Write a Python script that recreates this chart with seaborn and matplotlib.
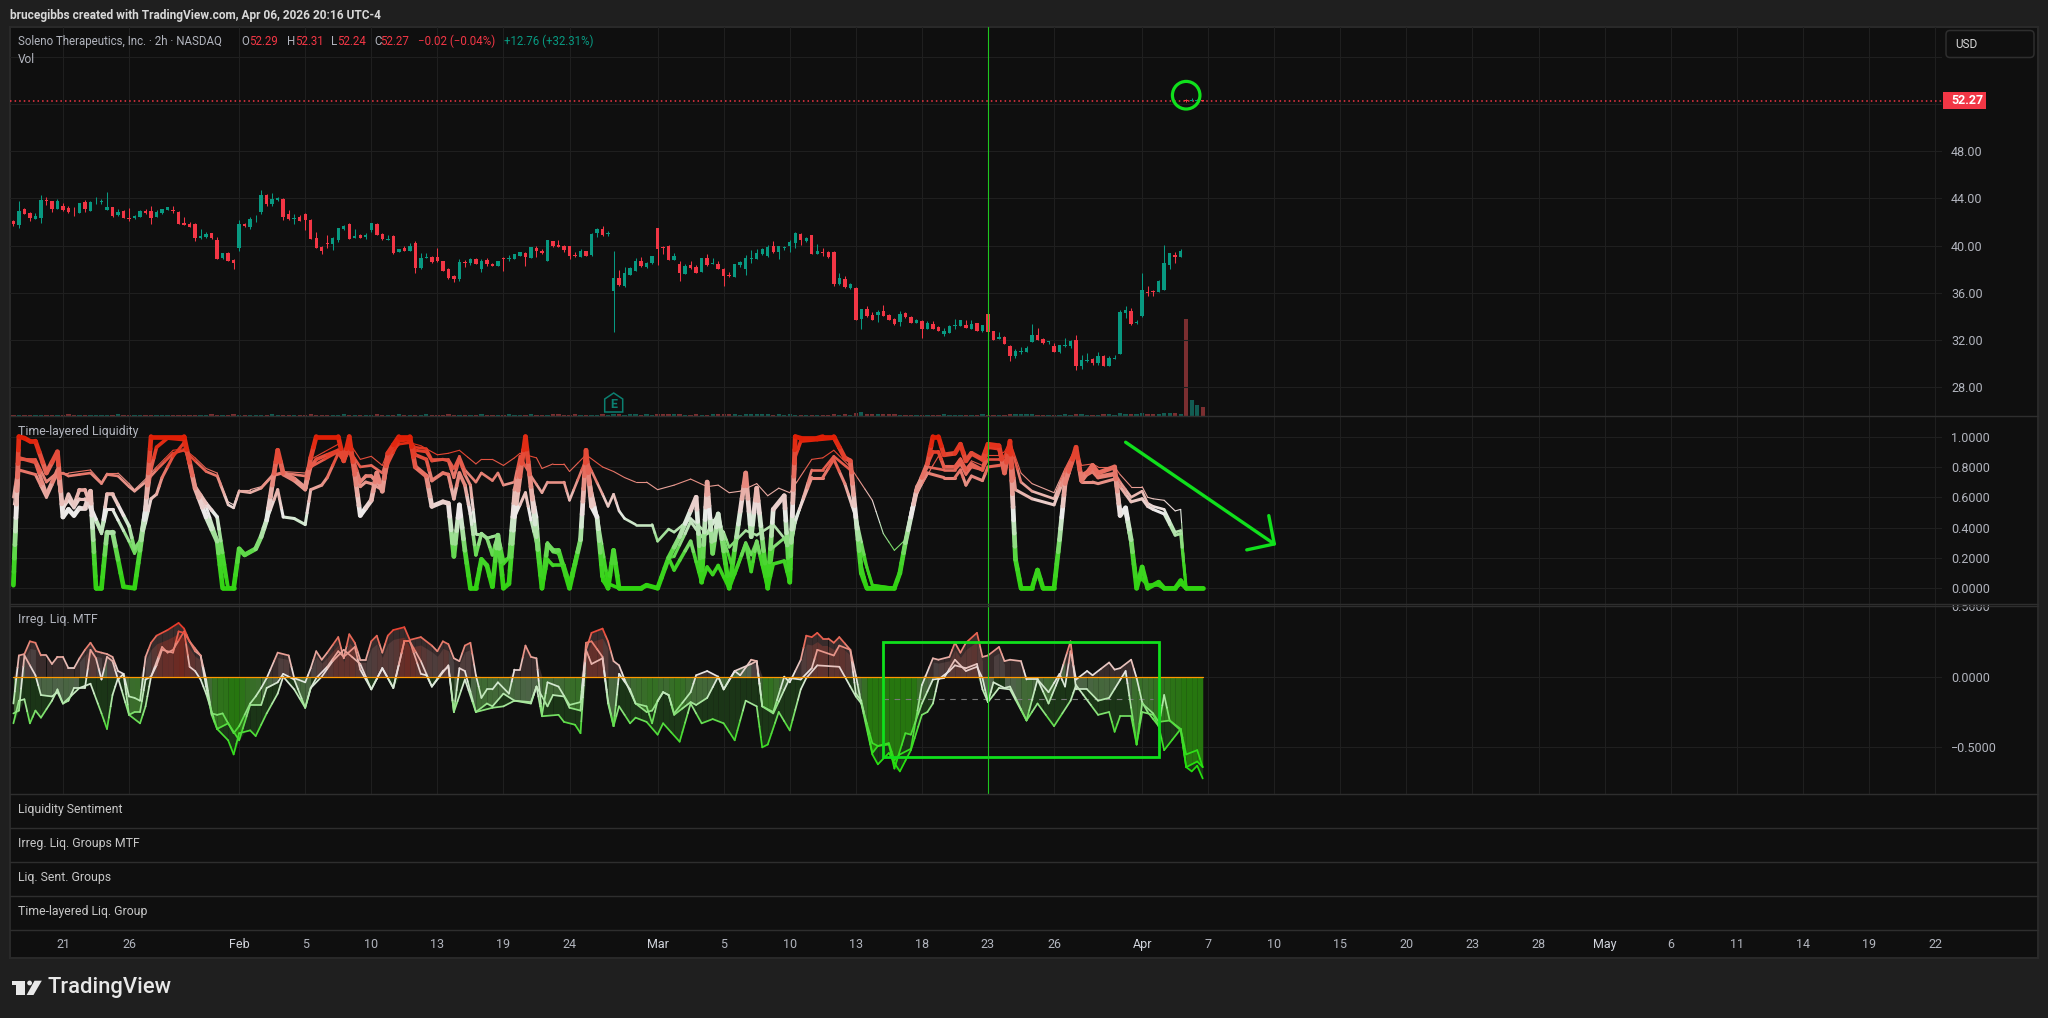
import numpy as np
import pandas as pd
import matplotlib
matplotlib.use('Agg')
import matplotlib.pyplot as plt
import seaborn as sns
from matplotlib.colors import LinearSegmentedColormap, to_rgb
from matplotlib.patches import Rectangle, Ellipse, FancyBboxPatch, Polygon, Circle
from matplotlib.transforms import Bbox

# candles, one value per 2h bar
opens = [42.10,41.76,43.09,42.81,42.30,42.35,43.91,43.80,43.12,43.37,
    43.23,42.98,42.81,43.71,42.98,43.68,43.74,43.06,43.26,42.61,
    42.92,42.35,42.33,42.44,42.95,42.95,42.47,42.75,43.03,43.00,
    42.89,41.90,41.87,41.85,40.66,40.77,41.05,40.49,38.96,39.42,
    38.79,39.81,41.85,41.62,42.41,42.86,44.30,43.51,43.91,43.99,
    42.69,42.30,42.44,42.69,42.18,40.66,39.93,40.24,40.12,40.49,
    41.39,41.85,40.69,40.91,40.72,41.34,41.87,41.00,40.52,40.83,
    39.50,39.81,39.59,40.24,38.12,38.99,39.05,39.02,38.71,38.06,
    37.47,37.16,38.63,38.51,38.88,38.06,38.79,38.48,38.31,38.99,
    38.91,38.91,39.16,39.36,38.99,39.78,39.59,38.74,40.38,40.04,
    39.95,39.95,39.19,39.08,39.53,39.22,41.11,41.42,41.00,36.20,
    37.24,36.59,37.55,37.89,38.68,38.17,38.51,41.48,
    39.90,40.01,38.79,38.46,37.61,38.37,38.20,37.78,38.96,38.48,38.46,38.03,37.50,37.36,38.37,38.03,38.91,38.88,39.30,39.13,
    39.98,39.47,39.84,39.98,40.24,41.00,40.38,40.91,39.30,39.47,39.47,39.47,36.76,37.19,36.42,36.42,33.79,34.64,34.13,34.13,
    34.47,34.13,33.79,33.54,34.30,33.96,33.46,33.63,32.95,33.37,33.12,32.52,32.61,33.20,33.20,33.29,32.95,33.46,32.78,34.22,
    32.78,32.10,32.27,31.51,30.66,31.00,31.00,31.85,32.44,32.10,31.85,31.51,31.00,31.51,31.51,32.02,29.81,30.24,30.41,30.07,
    30.66,29.81,30.41,30.83,34.30,34.47,33.46,34.05,36.08,36.17,36.08,36.25,38.37,39.19,39.05,52.35,52.27,52.27,52.29]
highs = [42.18,43.80,43.17,42.86,42.75,44.30,44.11,43.82,43.96,43.60,
    43.37,43.26,43.65,43.88,43.77,44.11,43.94,44.56,43.32,43.09,
    43.03,43.20,42.61,43.03,43.15,43.37,43.03,43.15,43.29,43.37,
    42.95,42.41,42.02,41.90,41.39,41.17,41.11,40.72,39.42,39.47,
    38.91,42.18,41.96,42.47,42.64,44.73,44.36,44.50,44.13,44.05,
    43.03,42.69,42.64,42.75,42.24,41.17,39.98,40.94,40.77,41.54,
    41.79,41.90,41.42,40.97,41.05,41.93,41.93,41.05,40.89,40.89,
    39.76,39.98,40.21,40.38,39.36,39.42,39.13,39.81,38.74,38.12,
    37.55,38.85,38.79,38.96,38.96,38.91,38.96,38.57,38.74,39.08,
    39.19,39.30,39.50,39.47,39.93,39.98,39.76,40.52,40.43,40.49,
    40.07,39.98,39.50,39.73,39.56,41.05,41.51,41.68,41.25,39.56,
    37.95,38.23,38.17,38.99,39.02,38.63,39.16,41.54,
    39.98,40.07,39.39,38.71,38.43,38.68,38.34,38.99,39.30,38.96,38.68,38.12,37.81,38.48,38.71,39.19,39.64,39.70,39.81,40.04,
    40.41,40.01,39.98,40.49,41.17,41.05,40.72,40.94,40.15,39.81,39.56,39.53,37.66,37.41,36.85,36.48,34.67,34.90,34.39,34.56,
    34.98,34.22,33.85,34.47,34.39,34.05,33.79,33.71,33.63,33.63,33.20,33.03,33.29,33.79,33.74,33.71,33.71,33.48,33.32,34.25,
    32.81,32.69,32.35,31.59,31.25,31.42,31.51,33.37,33.00,32.18,31.96,31.73,31.62,32.18,31.99,32.44,30.74,30.91,30.46,31.00,
    30.71,30.66,30.74,34.56,34.90,34.73,33.71,37.69,36.59,36.25,37.10,40.07,39.42,39.47,39.73,52.40,52.50,52.40,52.31]
lows = [41.70,41.54,42.67,42.13,42.27,41.96,43.43,42.89,43.09,42.98,
    42.75,42.52,42.75,42.86,42.95,43.51,43.57,43.03,42.44,42.55,
    42.35,42.13,42.27,42.41,42.69,41.87,42.44,42.69,43.00,42.75,
    41.85,41.73,41.56,40.43,40.60,40.66,40.57,38.88,38.85,38.71,
    38.06,39.59,41.59,41.39,42.04,42.69,43.40,43.40,43.82,42.18,
    42.18,41.87,42.07,41.34,40.55,39.81,39.30,39.78,39.64,40.35,
    41.34,40.55,40.66,40.66,40.60,41.17,40.89,40.49,40.49,39.30,
    39.44,39.53,39.53,37.69,38.00,38.94,38.51,38.63,37.83,37.21,
    36.93,37.02,38.23,38.40,38.43,37.78,38.29,38.29,38.29,37.89,
    38.74,38.85,39.13,38.29,38.94,39.08,39.30,38.71,39.90,39.87,
    39.47,38.85,39.02,39.05,39.11,39.16,40.77,40.86,40.86,32.69,
    36.62,36.54,37.50,37.86,38.23,38.09,38.48,38.40,
    39.30,38.77,38.77,37.02,37.58,38.06,37.67,37.75,38.31,38.46,38.00,36.59,37.33,37.33,38.20,37.52,38.54,38.85,39.25,39.08,
    39.42,38.88,39.64,39.47,39.81,40.04,40.32,39.28,39.28,39.13,38.99,36.59,36.68,36.45,36.37,33.68,32.95,33.96,33.68,33.54,
    34.02,33.68,33.29,33.20,33.91,33.43,33.43,32.18,32.92,32.92,32.75,32.35,32.58,32.95,33.17,33.00,32.92,32.75,32.69,32.58,
    31.99,32.07,31.65,30.24,30.49,30.83,30.97,31.82,31.99,31.68,31.65,30.97,30.91,31.42,31.34,29.47,29.56,30.15,29.90,29.90,
    29.78,29.78,30.37,30.80,33.88,33.29,33.37,33.99,35.74,35.74,36.06,36.22,38.03,38.54,39.02,52.20,52.25,52.24,52.24]
closes = [41.87,42.95,42.72,42.33,42.55,43.88,43.82,43.12,43.80,43.03,
    42.86,42.92,43.60,43.15,43.71,43.74,43.82,43.29,42.55,42.89,
    42.38,42.27,42.55,42.98,42.81,42.35,42.86,43.09,43.26,42.98,
    41.87,41.76,41.62,40.66,40.83,41.00,40.63,38.91,39.36,38.74,
    38.51,41.87,41.68,42.30,42.47,44.30,43.54,43.96,44.08,42.47,
    42.24,42.35,42.13,42.18,40.60,39.84,39.59,40.18,40.66,41.48,
    41.65,40.60,40.86,40.69,40.89,41.90,40.94,40.55,40.57,39.36,
    39.70,39.59,40.01,38.12,38.99,39.05,38.65,38.68,37.89,37.27,
    37.16,38.63,38.54,38.85,38.48,38.74,38.43,38.31,38.71,38.91,
    38.99,39.28,39.44,39.08,39.90,39.59,39.36,40.49,39.98,39.90,
    39.61,39.13,39.13,39.59,39.16,41.03,41.42,40.91,41.08,37.27,
    36.68,37.66,38.12,38.71,38.29,38.51,39.13,39.73,
    39.78,38.79,39.13,37.72,38.29,38.12,37.69,38.96,38.37,38.54,38.03,37.44,37.41,38.46,38.63,38.96,38.96,39.39,39.73,39.90,
    39.47,39.98,39.90,40.32,41.08,40.49,40.66,39.30,39.56,39.39,39.05,36.76,37.27,36.51,36.76,33.71,34.64,34.05,33.71,34.39,
    34.05,33.71,33.37,34.22,33.96,33.46,33.71,32.95,33.46,32.95,32.78,32.78,33.20,33.29,33.71,33.03,33.37,32.78,33.29,32.69,
    32.02,32.27,31.68,30.66,31.08,31.08,31.34,32.44,32.02,31.76,31.93,31.00,31.59,31.59,31.93,29.81,30.32,30.35,30.07,30.66,
    29.81,30.49,30.49,34.39,34.56,33.37,33.57,36.25,36.00,36.06,37.02,38.54,39.39,39.05,39.56,52.22,52.35,52.35,52.27]
volumes = [3,4,3,3,4,3,3,4,3,3, 5,3,3,3,4,3,3,3,3,5, 3,3,3,3,4,3,3,3,3,4, 3,3,4,3,3,3,5,3,3,3, 5,3,4,3,3,3,3,5,3,3,
    3,3,3,3,5,3,3,3,3,3, 5,3,3,4,3,3,5,3,3,3, 5,3,3,3,3,5,3,3,3,5, 3,3,3,3,3,5,3,3,3,3, 5,3,3,3,5,3,3,3,5,5,
    3,3,5,3,3,3,3,5,4,5, 5,3,5,5,3,5,3,
    6,6,6,6,6,3,3,6,3,3, 6,6,6,6,6,3,6,6,6,6, 6,3,6,3,6,3,3,3,3,3, 3,3,6,3,6,3,9,12,
    6,6,6,6,6,6,3,3,3,3, 3,3,3,3,6,3,3,3,3,3, 3,6,3,3,3,3,6,6,6,6, 6,3,3,3,3,3,6,3,6,6,
    3,3,3,6,6,3,9,6,6,6, 9,6,6,6,9,9,8,5,291,48, 33,27]

# Time-layered Liquidity, five lines, read at their turning points
fast_bars = [0,1,2,3,4,6,8,9,10,11,12,13,14,15,16,17,18,20,22,23,24,25,31,33,35,37,38,40,41,42,44,45,46,48,49,51,53,54,55,59,60,61,62,63,64,65,66,67,68,70,72,73,75,76,78,79,80,81,82,83,84,85,86,87,88,89,90,91,93,94,95,96,97,98,99,101,103,104,105,106,107,108,109,110,114,115,117,119,121,124,125,126,127,128,130,133,134,135,137,138,140,141,142,143,146,147,149,151,152,153,154,155,160,161,162,164,166,167,168,169,171,172,173,174,176,177,179,180,181,182,183,185,186,187,189,190,191,193,194,196,197,200,201,202,203,204,205,206,208,209,211,212,213,216]
fast_vals = [.02,1.0,.99,.97,.97,.76,.90,.47,.52,.48,.53,.53,.64,0,0,.37,.37,.01,0,.25,.52,1.0,1.0,.66,.47,.31,0,0,.26,.22,.26,.34,.45,.91,.76,.72,.66,.86,1.0,1.0,.84,1.0,.75,.48,.53,.58,.76,.64,.89,1.0,1.0,.80,.74,.54,.57,.56,.21,.55,.25,0,0,.19,.15,.01,.35,0,.03,.47,1.0,.67,.34,0,.29,.25,.25,0,.32,.91,.54,.47,.08,0,.25,0,0,.02,0,.20,.34,.60,.04,.70,.23,.49,0,.76,.34,.66,0,.52,.61,.04,1.0,.99,.99,1.0,1.0,.86,.84,.47,.10,0,0,.10,.30,.64,.82,1.0,1.0,.88,.89,.95,.84,.89,.85,.95,.94,.76,.97,.19,0,0,.12,0,0,.32,.69,.93,.71,.81,.76,.80,.48,.53,.32,0,.14,0,.04,0,0,.05,0,0]
second_bars = [0,1,4,6,8,9,10,11,12,13,14,16,17,18,21,22,23,24,25,26,28,31,33,35,37,39,40,41,42,44,45,46,48,49,51,53,54,55,57,59,60,61,63,64,65,67,68,70,72,73,75,76,78,79,80,81,82,83,84,85,86,87,88,89,90,91,93,94,95,96,97,98,100,101,103,104,105,106,108,110,114,115,117,119,120,123,125,126,127,128,130,133,134,135,137,138,140,141,142,143,146,149,151,152,153,154,155,160,161,162,164,166,167,168,169,171,172,173,174,176,177,179,180,181,182,183,185,186,187,189,190,191,193,194,196,197,200,201,202,203,204,205,206,208,209,211,212,213,216]
second_vals = [.03,.86,.83,.62,.78,.52,.62,.55,.65,.65,.54,.37,.62,.62,.41,.26,.31,.54,.79,.93,.99,.98,.67,.56,.47,0,0,.26,.22,.26,.34,.45,.90,.75,.71,.65,.80,.85,.88,.91,.84,.93,.70,.74,.74,.66,.86,.99,.99,.88,.85,.71,.76,.75,.59,.76,.68,.49,.22,.36,.33,.22,.35,.18,.20,.65,.97,.67,.47,0,.19,.15,.15,.03,.32,.85,.63,.47,.03,0,0,.02,0,.20,.12,.31,.04,.14,.09,.15,0,.29,.11,.31,0,.16,.18,.04,.87,.97,.98,.99,.86,.84,.45,.14,0,0,.10,.30,.64,.82,.90,.90,.80,.80,.85,.78,.82,.78,.93,.92,.76,.93,.19,0,0,.12,0,0,.32,.69,.90,.73,.77,.73,.75,.52,.50,.30,.05,.06,.02,.02,0,0,.03,0,0]
third_bars = [0,1,4,6,8,9,10,11,12,13,14,16,17,18,21,22,23,24,25,26,27,29,31,33,35,37,39,40,41,42,44,45,46,48,49,51,53,54,56,57,59,60,61,63,64,65,67,68,70,72,73,75,76,78,79,80,81,82,83,84,85,86,87,88,89,90,91,93,94,95,96,97,98,99,101,103,104,105,106,107,108,109,110,114,115,117,119,120,122,123,125,126,128,129,131,133,134,135,137,138,140,141,142,145,147,149,151,153,155,156,160,161,162,164,166,169,171,172,173,174,176,177,179,180,181,182,185,189,191,193,194,196,197,200,201,203,205,206,207,209,211,212,213,216]
third_vals = [.14,.78,.75,.60,.76,.53,.58,.53,.59,.59,.52,.36,.52,.52,.31,.23,.30,.43,.59,.62,.73,.87,.96,.66,.54,.32,0,0,.26,.22,.26,.34,.45,.65,.47,.46,.42,.65,.68,.73,.89,.84,.91,.67,.70,.69,.65,.82,.97,.98,.91,.90,.84,.85,.84,.73,.85,.75,.68,.36,.36,.33,.34,.35,.16,.20,.47,.63,.45,.30,0,.30,.24,.23,.03,.32,.91,.63,.47,.05,0,.25,0,0,.02,0,.20,.21,.36,.44,.34,.36,.49,.32,.09,.30,.22,.31,.01,.27,.33,.23,.45,.73,.73,.85,.69,.47,.14,.02,0,.10,.30,.63,.76,.73,.73,.78,.68,.74,.71,.80,.81,.82,.96,.65,.59,.55,.74,.91,.70,.70,.69,.72,.67,.57,.59,.54,.52,.49,.35,.36,0,0]
fourth_bars = [0,1,4,6,8,9,10,12,14,16,17,19,21,22,24,26,29,31,33,35,37,39,40,41,43,45,47,49,53,54,59,60,61,63,65,67,68,70,72,73,75,76,79,80,81,82,84,85,87,88,89,91,92,94,96,97,100,101,104,107,108,109,110,111,113,116,117,119,120,123,126,127,129,130,133,135,138,140,141,142,145,147,149,152,153,154,156,160,161,162,164,166,169,171,172,173,174,176,177,179,180,181,183,185,189,191,193,194,196,197,200,201,203,205,206,207,209,211,212,213,216]
fourth_vals = [.60,.85,.85,.70,.76,.76,.74,.75,.76,.69,.75,.74,.67,.64,.70,.78,.89,.91,.84,.77,.74,.55,.53,.64,.63,.66,.74,.76,.74,.80,.90,.85,.91,.80,.81,.76,.87,.95,.96,.93,.92,.85,.85,.79,.87,.78,.70,.76,.71,.76,.68,.70,.87,.74,.63,.70,.70,.58,.85,.62,.54,.62,.51,.46,.42,.42,.31,.39,.37,.46,.36,.45,.37,.27,.38,.35,.42,.33,.23,.43,.78,.78,.87,.78,.47,.25,.02,0,.10,.32,.67,.80,.78,.78,.82,.75,.80,.78,.85,.85,.87,.96,.70,.64,.59,.77,.92,.75,.79,.74,.76,.70,.60,.64,.56,.54,.52,.37,.38,0,0]
slow_bars = [0,1,4,6,8,9,10,12,14,16,17,19,21,22,24,26,29,31,33,35,37,39,40,41,43,45,47,49,53,54,59,60,61,63,65,67,68,70,72,74,77,79,81,84,85,87,89,91,92,95,96,98,100,101,104,107,109,111,113,115,117,120,123,126,128,130,132,135,137,139,141,145,147,149,152,156,158,160,162,163,165,167,168,169,171,172,173,174,176,177,179,180,181,183,185,189,191,193,194,196,197,200,201,203,205,206,207,209,211,212,213,216]
slow_vals = [.55,.86,.85,.71,.77,.76,.76,.77,.78,.70,.76,.76,.69,.65,.72,.80,.91,.92,.86,.79,.76,.57,.55,.65,.65,.67,.75,.77,.76,.85,.95,.87,.96,.85,.87,.81,.90,1.0,.96,.94,.88,.89,.91,.82,.85,.85,.81,.86,.89,.86,.79,.82,.82,.77,.88,.80,.77,.73,.70,.70,.65,.68,.72,.67,.68,.63,.64,.69,.61,.66,.63,.85,.86,.91,.80,.58,.36,.25,.32,.53,.68,.81,.87,.81,.81,.86,.79,.84,.81,.88,.88,.90,.97,.76,.69,.63,.79,.93,.81,.82,.80,.80,.75,.67,.67,.60,.59,.58,.51,.52,0,0]

# Irreg. Liq. MTF, three lines
upper_bars = [0,1,2,3,4,5,6,7,8,9,10,11,12,13,14,15,16,17,18,19,20,21,22,23,24,25,26,28,30,31,32,33,34,35,36,37,38,40,41,43,44,45,46,48,50,51,53,54,55,56,57,59,60,61,62,63,64,65,66,67,68,69,71,72,74,76,77,78,79,80,81,82,83,84,85,86,87,88,90,91,92,93,94,95,96,97,99,101,103,104,105,107,108,109,110,111,113,115,116,117,118,119,120,123,124,126,128,129,131,132,134,135,136,138,140,141,143,144,145,146,147,148,149,150,152,153,154,156,157,159,160,161,163,165,167,168,170,171,172,173,175,176,177,179,180,181,183,184,186,188,190,191,192,193,195,196,199,200,201,203,204,205,206,208,209,210,212,213,215,216]
upper_vals = [-.19,.15,.16,.25,.24,.15,.15,.09,.14,.14,.06,.06,.13,.19,.24,.18,.17,.16,.14,.04,.02,-.14,-.15,-.17,.14,.24,.29,.33,.38,.34,.25,.18,.15,-.02,-.26,-.27,-.26,-.40,-.35,-.19,-.14,-.08,-.01,.17,.15,-.01,-.04,.06,.18,.12,.17,.28,.13,.30,.24,.12,.12,.25,.29,.17,.29,.33,.35,.26,.28,.22,.18,.25,.23,.13,.11,.22,.24,.01,-.15,-.09,-.09,-.04,-.12,.05,.05,.22,.14,.13,-.27,-.04,-.07,-.20,-.18,.19,.31,.34,.25,.11,.08,-.02,-.19,-.21,-.33,-.17,-.11,-.13,-.26,-.11,.01,.04,0,-.09,.04,.01,.12,.11,-.21,-.25,0,-.04,.12,.29,.28,.31,.27,.27,.24,.28,.19,.01,-.19,-.47,-.49,-.47,-.59,-.55,-.51,-.06,.13,.12,.14,.24,.17,.24,.31,.14,.15,.21,.11,.12,.11,-.02,-.02,-.11,.02,-.07,.18,-.02,.04,.01,.10,.05,.06,.12,-.01,-.18,-.25,-.35,-.13,-.31,-.37,-.55,-.52,-.64]
middle_bars = [0,1,2,4,5,7,8,9,10,11,13,14,15,16,17,18,19,20,21,22,23,24,25,27,28,29,31,32,33,34,35,37,39,41,43,45,46,48,49,51,53,54,55,57,59,60,62,63,65,67,69,71,72,74,76,78,79,80,81,82,84,86,87,89,91,94,95,97,98,100,101,103,104,105,107,108,109,110,112,113,115,116,118,119,120,123,124,126,128,129,131,134,135,136,138,141,143,145,146,149,150,152,153,154,156,157,159,160,162,163,165,167,169,171,173,175,176,177,178,180,181,184,186,188,190,192,193,195,197,199,202,204,205,207,208,210,212,213,215,216]
middle_vals = [-.26,-.24,.15,.01,-.13,-.14,-.11,-.19,-.17,-.08,-.08,.19,.13,-.02,.14,.11,-.02,.02,-.27,-.25,-.25,-.02,0,.21,.17,.19,.32,.07,.04,-.02,-.12,-.37,-.33,-.45,-.20,-.20,-.08,-.04,.02,-.02,-.22,-.08,-.01,.07,.18,.14,.21,.05,-.09,.06,-.08,.25,.25,.11,-.07,.04,.07,-.25,.06,.04,-.25,-.19,-.21,-.12,-.17,-.18,-.07,-.21,-.13,-.14,-.22,-.24,.24,.25,.14,-.17,-.35,.02,-.09,-.19,-.25,-.24,-.11,-.13,-.27,-.18,-.20,-.15,0,-.09,.04,.09,.11,-.21,-.26,-.01,-.02,.06,.19,.15,.22,.19,-.12,-.17,-.54,-.49,-.48,-.65,-.40,-.41,-.19,-.02,-.01,.12,.04,.07,-.01,-.18,-.04,-.08,-.07,-.31,-.02,-.19,0,.25,-.09,-.09,-.17,-.15,.04,-.48,-.19,-.26,-.32,-.31,-.38,-.64,-.60,-.64]
lower_bars = [0,1,2,3,4,5,7,8,9,12,14,16,17,18,19,21,23,24,25,26,27,29,30,31,32,34,35,36,37,39,40,41,43,44,46,48,49,51,53,54,56,58,60,63,65,67,69,71,72,74,75,76,79,80,82,84,87,89,91,94,95,96,99,100,102,103,104,105,107,108,109,110,112,113,115,117,118,121,123,125,127,129,131,133,135,136,137,139,141,143,144,146,150,153,154,156,157,159,160,161,163,165,166,167,168,170,171,173,175,176,177,179,181,184,186,189,192,193,197,199,200,201,203,204,205,207,208,209,212,213,214,215,216]
lower_vals = [-.33,-.17,-.16,-.33,-.24,-.29,-.17,-.09,-.19,-.08,-.05,-.26,-.37,-.13,-.01,-.27,-.33,-.21,0,.08,.19,.17,.32,.31,.25,.15,-.07,-.27,-.37,-.45,-.55,-.40,-.38,-.42,-.26,-.12,0,-.09,-.22,-.08,0,.11,.19,.09,-.09,.06,-.08,.25,.25,.02,.01,-.07,.08,-.25,-.02,-.25,-.22,-.21,-.17,-.19,-.07,-.28,-.27,-.32,-.34,-.40,.19,.09,.13,-.19,-.35,-.21,-.33,-.29,-.32,-.41,-.33,-.46,-.19,-.33,-.30,-.33,-.45,-.17,-.21,-.50,-.48,-.25,-.38,-.09,-.01,.08,.07,-.14,-.19,-.55,-.62,-.54,-.61,-.67,-.52,-.27,-.25,-.19,-.02,.04,.08,.06,.09,-.09,-.18,-.08,-.09,-.31,-.19,-.35,-.17,-.06,-.27,-.25,-.39,-.28,-.28,-.48,-.25,-.27,-.35,-.52,-.37,-.64,-.67,-.63,-.72]

# time axis
tick_bars = [9,21,41,53,65,77,89,101,117,129,141,153,165,177,189,205,217,229,241,253,265,277,289,301,313,325,337,349]
tick_labels = ['21','26','Feb','5','10','13','19','24','Mar','5','10','13','18','23','26','Apr','7','10','15','20','23','28','May','6','11','14','19','22']
price_ticks = [28,32,36,40,44,48,52,56]
price_labels = ['28.00','32.00','36.00','40.00','44.00','48.00','','']
liq_ticks = [0,.2,.4,.6,.8,1.0]
liq_labels = ['0.0000','0.2000','0.4000','0.6000','0.8000','1.0000']
irr_ticks = [-.5,0,.5]
irr_labels = ['\u22120.5000','0.0000','0.5000']
last_close = 52.27

W, H = 2048, 1018
BG = '#1f1f1f'
PANE = '#0f0f0f'
GRID = '#1f1f1f'
SEP = '#2e2e2e'
TXT = '#b2b5be'
UP = '#089981'
DOWN = '#f23645'
MARK = '#10e01c'

sns.set_theme(style='dark', rc={'figure.facecolor': BG, 'savefig.facecolor': BG, 'axes.facecolor': 'none'})
plt.rcParams['font.family'] = ['Roboto', 'DejaVu Sans']

fig = plt.figure(figsize=(W / 100, H / 100), dpi=100)

def rect(x0, y0, x1, y1):
    return [x0 / W, 1 - y1 / H, (x1 - x0) / W, (y1 - y0) / H]

# backdrop of the whole chart area
back = fig.add_axes(rect(10, 27, 2038, 958), zorder=0)
back.set_facecolor(PANE)
back.set_xticks([])
back.set_yticks([])
for s in back.spines.values():
    s.set_color('#2a2a2a')
    s.set_linewidth(1.4)

PANE_X0, PANE_X1 = 10, 1942
ax_vol = fig.add_axes(rect(PANE_X0, 27, PANE_X1, 416), zorder=1)
ax_price = fig.add_axes(rect(PANE_X0, 27, PANE_X1, 416), zorder=2, sharex=ax_vol)
ax_liq = fig.add_axes(rect(PANE_X0, 416, PANE_X1, 604), zorder=2, sharex=ax_vol)
ax_irr = fig.add_axes(rect(PANE_X0, 605, PANE_X1, 794), zorder=2, sharex=ax_vol)
ax_time = fig.add_axes(rect(PANE_X0, 930, PANE_X1, 957), zorder=2, sharex=ax_vol)

bars = pd.DataFrame({'open': opens, 'high': highs, 'low': lows, 'close': closes, 'volume': volumes})
bars['bar'] = bars.index
bars['color'] = np.where(bars['close'] >= bars['open'], UP, DOWN)
bars['vol_color'] = np.where(bars['close'] >= bars['open'], '#125c52', '#7a2e30')

# volume under the candles
ax_vol.bar(bars['bar'], bars['volume'], width=0.78, color=bars['vol_color'], linewidth=0)
ax_vol.set_ylim(0, 1167)
ax_vol.set_yticks([])
ax_vol.tick_params(labelbottom=False, length=0)

# candles
ax_price.vlines(bars['bar'], bars['low'], bars['high'], colors=bars['color'], linewidth=0.75, zorder=3)
body_low = bars[['open', 'close']].min(axis=1)
body_h = (bars['open'] - bars['close']).abs().clip(lower=0.06)
ax_price.bar(bars['bar'], body_h, bottom=body_low, width=0.62, color=bars['color'], linewidth=0, zorder=4)
ax_price.axhline(last_close, color=DOWN, linewidth=1.1, linestyle=(0, (1, 2)), zorder=2)
ax_price.set_ylim(25.57, 58.53)
ax_price.add_patch(Ellipse((213, 52.75), 5, 2.34, fill=False, edgecolor=MARK, linewidth=2.3, zorder=6))

liq_cmap = LinearSegmentedColormap.from_list('liq', [
    (0, '#2fd30f'), (.2, '#46d52c'), (.36, '#a8e0a0'), (.5, '#ececec'),
    (.65, '#e8a8a0'), (.82, '#e55c4c'), (1, '#e01e05')])
irr_cmap = LinearSegmentedColormap.from_list('irr', [
    (0, '#25e00e'), (.27, '#58dc42'), (.46, '#b8e8b0'), (.62, '#e8e8e8'),
    (.74, '#e8b0a8'), (.87, '#e8705f'), (1, '#e83020')])

def segments(xs, ys, step):
    # cut a polyline into short pieces so the colour can follow the value
    rows = []
    seg = 0
    for x0, x1, y0, y1 in zip(xs[:-1], xs[1:], ys[:-1], ys[1:]):
        n = max(1, int(np.ceil(abs(y1 - y0) / step)))
        px = np.linspace(x0, x1, n + 1)
        py = np.linspace(y0, y1, n + 1)
        for j in range(n):
            level = round((py[j] + py[j + 1]) / 2, 2)
            rows.append((seg, px[j], py[j], level))
            rows.append((seg, px[j + 1], py[j + 1], level))
            seg += 1
    return pd.DataFrame(rows, columns=['seg', 'bar', 'value', 'level'])

def gradient_line(ax, xs, ys, cmap, norm, width, step):
    sns.lineplot(data=segments(xs, ys, step), x='bar', y='value', hue='level', units='seg',
                 estimator=None, sort=False, palette=cmap, hue_norm=norm, linewidth=width,
                 legend=False, ax=ax, solid_capstyle='round', zorder=5)

liq_layers = [(slow_bars, slow_vals, 0.8), (fourth_bars, fourth_vals, 1.9), (third_bars, third_vals, 2.2),
              (second_bars, second_vals, 2.6), (fast_bars, fast_vals, 3.4)]
for xs, ys, lw in liq_layers:
    gradient_line(ax_liq, xs, ys, liq_cmap, (0, 1), lw, 0.09)
ax_liq.set_ylim(-0.104, 1.136)

# analyst arrow
ax_liq.plot([202, 229], [.963, .292], color=MARK, linewidth=2.4, solid_capstyle='round', zorder=6)
ax_liq.plot([228, 229, 224], [.479, .292, .253], color=MARK, linewidth=2.4, solid_capstyle='round', zorder=6)

# filled shading of the irregular liquidity pane
grid_bars = np.arange(0, 217)
up_i = np.interp(grid_bars, upper_bars, upper_vals)
mid_i = np.interp(grid_bars, middle_bars, middle_vals)
low_i = np.interp(grid_bars, lower_bars, lower_vals)
mean_i = (up_i + mid_i + low_i) / 3

def blend(a, b, t):
    a, b = np.array(to_rgb(a)), np.array(to_rgb(b))
    return tuple(a + (b - a) * t)

for i in range(len(grid_bars) - 1):
    seg_x = grid_bars[i:i + 2]
    top = np.maximum(np.maximum(up_i[i:i + 2], mid_i[i:i + 2]), 0)
    bot = np.minimum(np.minimum(low_i[i:i + 2], mid_i[i:i + 2]), 0)
    ax_irr.fill_between(seg_x, 0, top, color='#382b2b', linewidth=0, antialiased=False, zorder=2)
    ax_irr.fill_between(seg_x, 0, bot, color='#1b3517', linewidth=0, antialiased=False, zorder=2)
    m = (mean_i[i] + mean_i[i + 1]) / 2
    t = min(abs(m) / 0.42, 1)
    col = blend('#52604f', '#26760f', t) if m < 0 else blend('#4a4040', '#7c2016', t)
    ax_irr.fill_between(seg_x, 0, mid_i[i:i + 2] if m < 0 else up_i[i:i + 2] * 0.8, color=col, linewidth=0,
                        antialiased=False, zorder=3)

for xs, ys, lw in [(upper_bars, upper_vals, 1.25), (middle_bars, middle_vals, 1.25), (lower_bars, lower_vals, 1.25)]:
    gradient_line(ax_irr, xs, ys, irr_cmap, (-.6, .38), lw, 0.09)

ax_irr.plot([0, 216], [0, 0], color='#ff9800', linewidth=0.9, zorder=6)
ax_irr.plot([158, 207], [-.16, -.16], color='#787878', linewidth=0.8, linestyle=(0, (5, 5)), zorder=4)
ax_irr.add_patch(Rectangle((158, -.571), 50, .814, fill=False, edgecolor=MARK, linewidth=2.0, zorder=7))
ax_irr.set_ylim(-.83, .507)

# shared axis formatting
for ax, ticks, labels in [(ax_price, price_ticks, price_labels), (ax_liq, liq_ticks, liq_labels), (ax_irr, irr_ticks, irr_labels)]:
    ax.set(xlabel='', ylabel='')
    ax.yaxis.tick_right()
    ax.set_yticks(ticks)
    ax.set_yticklabels(labels, fontsize=9, color=TXT)
    ax.tick_params(axis='y', length=0, pad=6.5)
    ax.tick_params(axis='x', labelbottom=False, length=0)
    ax.set_xticks(tick_bars)
    ax.grid(True, color=GRID, linewidth=0.8)
    ax.set_axisbelow(True)
    ax.axvline(177, color='#1fc61f', linewidth=0.8, zorder=8)

ax_vol.set_xlim(-0.617, 350.27)
for ax in [ax_vol, ax_price, ax_liq, ax_irr, ax_time]:
    for s in ax.spines.values():
        s.set_visible(False)

# the 0.5000 label is cut by the top of its pane
for lbl in ax_irr.get_yticklabels():
    lbl.set_clip_on(True)
    lbl.set_clip_box(Bbox([[PANE_X1, H - 794], [2038, H - 605]]))

ax_time.set_yticks([])
ax_time.set_xticks(tick_bars)
ax_time.set_xticklabels(tick_labels, fontsize=9, color=TXT)
ax_time.tick_params(axis='x', length=0, pad=-14)
for lbl in ax_time.get_xticklabels():
    if lbl.get_text() in ('Feb', 'Mar', 'Apr', 'May'):
        lbl.set_color('#d1d4dc')

# page furniture drawn in pixel coordinates
over = fig.add_axes([0, 0, 1, 1], zorder=10)
over.set_xlim(0, W)
over.set_ylim(H, 0)
over.axis('off')

for y in [416, 604, 605.5, 794, 828, 862, 896, 930]:
    over.plot([10, 2038], [y, y], color=SEP, linewidth=1.0, zorder=1)

over.text(10, 15, 'brucegibbs created with TradingView.com, Apr 06, 2026 20:16 UTC-4', color='#d8d8d8',
          fontsize=8.6, fontweight='bold', va='center')
over.text(18, 41.7, 'Soleno Therapeutics, Inc. \u00b7 2h \u00b7 NASDAQ', color=TXT, fontsize=8.3, va='center')
quote = [(241.5, 'O', TXT), (249, '52.29', DOWN), (286.6, 'H', TXT), (294.6, '52.31', DOWN), (331, 'L', TXT),
         (337, '52.24', DOWN), (374, 'C', TXT), (380, '52.27', DOWN), (418, '\u22120.02 (\u22120.04%)', DOWN),
         (503.6, '+12.76 (+32.31%)', UP)]
for x, s, c in quote:
    over.text(x, 41.7, s, color=c, fontsize=8.3, va='center')
over.text(18, 59, 'Vol', color=TXT, fontsize=8.6, va='center')
over.text(18, 432, 'Time-layered Liquidity', color=TXT, fontsize=8.9, va='center')
over.text(18, 620, 'Irreg. Liq. MTF', color=TXT, fontsize=8.9, va='center')
for y, s in [(810, 'Liquidity Sentiment'), (844, 'Irreg. Liq. Groups MTF'), (878, 'Liq. Sent. Groups'), (912, 'Time-layered Liq. Group')]:
    over.text(18, y, s, color='#c8c8c8', fontsize=8.8, va='center')

# price tag and currency box
over.add_patch(Rectangle((1943, 92), 42.6, 17, facecolor=DOWN, edgecolor='none'))
over.text(1951, 100.7, '52.27', color='white', fontsize=9, fontweight='bold', va='center')
over.add_patch(FancyBboxPatch((1948, 32.5), 84, 23, boxstyle='round,pad=2,rounding_size=4',
                              facecolor=PANE, edgecolor='#2e2e2e', linewidth=1.1))
over.text(1955, 44.5, 'USD', color='#d8d8d8', fontsize=8.5, va='center')

# earnings marker
over.add_patch(Polygon([(604.7, 399), (613.7, 393), (622.7, 399), (622.7, 412), (604.7, 412)],
                       closed=True, fill=False, edgecolor='#0b7f70', linewidth=1.1))
over.text(613.7, 404, 'E', color='#0b7f70', fontsize=9, fontweight='bold', ha='center', va='center')

# TradingView mark and word
over.add_patch(Polygon([(11.8, 980.7), (24.8, 980.7), (24.8, 995), (16.3, 995), (16.3, 985.3), (11.8, 985.3)], closed=True, facecolor='#e8e8e8', edgecolor='none'))
over.add_patch(Circle((29.6, 983), 2.4, facecolor='#e8e8e8', edgecolor='none'))
over.add_patch(Polygon([(34.5, 980.7), (41.8, 980.7), (33.5, 995), (26.6, 995)], closed=True, facecolor='#e8e8e8', edgecolor='none'))
over.text(48, 987.5, 'TradingView', color='#e8e8e8', fontsize=15.8, family=['Roboto', 'DejaVu Sans'], fontweight='medium', va='center')

fig.savefig('out.png', dpi=100)
